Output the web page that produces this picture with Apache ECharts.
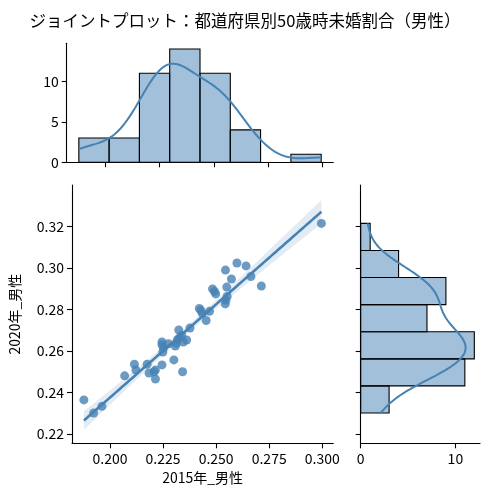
<!DOCTYPE html>
<html>
<head>
<meta charset="utf-8">
<script src="https://cdn.jsdelivr.net/npm/echarts@6/dist/echarts.min.js"></script>
<style>
  html, body { margin: 0; padding: 0; background: #fff; }
  #chart { width: 490px; height: 494px; }
</style>
</head>
<body>
<div id="chart"></div>
<script>
//都道府県別 50歳時未婚割合（男性）2015年 / 2020年
const x2015 = [
    0.1877, 0.1923, 0.1962, 0.2069, 0.2115, 0.2122, 0.2175, 0.2184, 0.2214, 0.2214,
    0.2245, 0.2245, 0.2249, 0.2301, 0.2342, 0.2308, 0.2324, 0.2338, 0.2361, 0.2318,
    0.2377, 0.2421, 0.2435, 0.2469, 0.2453, 0.2483, 0.2498, 0.2550, 0.2552, 0.2543,
    0.2572, 0.2544, 0.2598, 0.2641, 0.2664, 0.2713, 0.2996, 0.2492, 0.2546, 0.2428,
    0.2245, 0.2252, 0.2275, 0.2327, 0.2345, 0.2313, 0.2207
];
const y2020 = [
    0.2364, 0.2301, 0.2333, 0.2480, 0.2536, 0.2508, 0.2536, 0.2494, 0.2508, 0.2465,
    0.2533, 0.2643, 0.2595, 0.2557, 0.2500, 0.2624, 0.2701, 0.2675, 0.2653, 0.2655,
    0.2711, 0.2805, 0.2781, 0.2791, 0.2747, 0.2899, 0.2875, 0.2908, 0.2863, 0.2827,
    0.2947, 0.2990, 0.3024, 0.3010, 0.2959, 0.2913, 0.3215, 0.2887, 0.2845, 0.2795,
    0.2630, 0.2615, 0.2635, 0.2662, 0.2643, 0.2638, 0.2500
];

//ビン数と目盛り
const xBins = 8;
const yBins = 7;
const xTicks = [0.200, 0.225, 0.250, 0.275, 0.300];
const yTicks = [0.22, 0.24, 0.26, 0.28, 0.30, 0.32];
const topCountTicks = [0, 5, 10];
const rightCountTicks = [0, 10];

const BLUE = '#4682b4';
const FONT = '"Noto Sans CJK JP", "Noto Sans", sans-serif';

//ヒストグラム
function histogram(values, bins) {
    let lo = Math.min(...values), hi = Math.max(...values);
    let w = (hi - lo) / bins;
    let counts = new Array(bins).fill(0);
    values.forEach(v => {
        let i = Math.floor((v - lo) / w);
        if (i >= bins) i = bins - 1;
        counts[i]++;
    });
    return { width: w, rows: counts.map((c, i) => [lo + i * w, lo + (i + 1) * w, c]) };
}

//ガウスKDE（Scott）をカウントに換算
function kde(values, binWidth) {
    let n = values.length;
    let mean = values.reduce((a, b) => a + b, 0) / n;
    let sd = Math.sqrt(values.reduce((a, b) => a + (b - mean) ** 2, 0) / (n - 1));
    let bw = sd * Math.pow(n, -0.2);
    let lo = Math.min(...values), hi = Math.max(...values);
    let pts = [];
    for (let k = 0; k <= 200; k++) {
        let x = lo + (hi - lo) * k / 200;
        let d = 0;
        values.forEach(v => { d += Math.exp(-0.5 * ((x - v) / bw) ** 2); });
        d = d / (n * bw * Math.sqrt(2 * Math.PI));
        pts.push([x, d * n * binWidth]);
    }
    return pts;
}

//回帰直線と95%信頼区間
function regression(xs, ys) {
    let n = xs.length;
    let mx = xs.reduce((a, b) => a + b, 0) / n;
    let my = ys.reduce((a, b) => a + b, 0) / n;
    let sxx = 0, sxy = 0;
    xs.forEach((x, i) => { sxx += (x - mx) ** 2; sxy += (x - mx) * (ys[i] - my); });
    let b = sxy / sxx, a = my - b * mx;
    let sse = 0;
    xs.forEach((x, i) => { sse += (ys[i] - a - b * x) ** 2; });
    let s = Math.sqrt(sse / (n - 2));
    let t = 2.014;
    let lo = Math.min(...xs), hi = Math.max(...xs);
    let line = [], upper = [], lower = [];
    for (let k = 0; k <= 100; k++) {
        let x = lo + (hi - lo) * k / 100;
        let yh = a + b * x;
        let se = s * Math.sqrt(1 / n + (x - mx) ** 2 / sxx);
        line.push([x, yh]);
        upper.push([x, yh + t * se]);
        lower.push([x, yh - t * se]);
    }
    return { line, upper, lower };
}

let hx = histogram(x2015, xBins);
let hy = histogram(y2020, yBins);
let kx = kde(x2015, hx.width);
let ky = kde(y2020, hy.width).map(p => [p[1], p[0]]);
let reg = regression(x2015, y2020);

const X_MIN = 0.1821, X_MAX = 0.3052;
const Y_MIN = 0.2155, Y_MAX = 0.340;

function axisBase(show) {
    return {
        type: 'value',
        splitLine: { show: false },
        axisLine: { show: true, lineStyle: { color: '#000', width: 1.1 } },
        axisTick: { show: true, length: 5, lineStyle: { color: '#000', width: 1.1 } },
        axisLabel: { show: show, color: '#000', fontSize: 14, fontFamily: FONT, margin: 8 }
    };
}

function makeAxis(grid, min, max, ticks, show, fmt, extra) {
    let ax = axisBase(show);
    ax.gridIndex = grid;
    ax.min = min;
    ax.max = max;
    ax.axisTick.customValues = ticks;
    ax.axisLabel.customValues = ticks;
    if (fmt) ax.axisLabel.formatter = fmt;
    return Object.assign(ax, extra || {});
}

let chart = echarts.init(document.getElementById('chart'));

let option = {
    animation: false,
    title: {
        text: 'ジョイントプロット：都道府県別50歳時未婚割合（男性）',
        left: 'center',
        top: 7,
        textStyle: { fontSize: 16.5, fontWeight: 'normal', color: '#000', fontFamily: FONT }
    },
    grid: [
        { left: 66.7, top: 185, width: 266.6, height: 258.3 },
        { left: 66.7, top: 43.3, width: 266.6, height: 119 },
        { left: 360.7, top: 185, width: 119.3, height: 258.3 }
    ],
    xAxis: [
        makeAxis(0, X_MIN, X_MAX, xTicks, true, v => v.toFixed(3), {
            name: '2015年_男性', nameLocation: 'middle', nameGap: 27,
            nameTextStyle: { fontSize: 14, color: '#000', fontFamily: FONT }
        }),
        makeAxis(1, X_MIN, X_MAX, xTicks, false),
        makeAxis(2, 0, 12.6, rightCountTicks, true)
    ],
    yAxis: [
        makeAxis(0, Y_MIN, Y_MAX, yTicks, true, v => v.toFixed(2), {
            name: '2020年_男性', nameLocation: 'middle', nameGap: 50,
            nameTextStyle: { fontSize: 14, color: '#000', fontFamily: FONT }
        }),
        makeAxis(1, 0, 14.7, topCountTicks, true),
        makeAxis(2, Y_MIN, Y_MAX, yTicks, false)
    ],
    series: [
        {
            type: 'scatter',
            xAxisIndex: 0, yAxisIndex: 0,
            data: x2015.map((x, i) => [x, y2020[i]]),
            symbolSize: 9,
            itemStyle: { color: BLUE, opacity: 0.8 },
            z: 2
        },
        {
            type: 'custom',
            xAxisIndex: 0, yAxisIndex: 0,
            data: [[0]],
            z: 3,
            renderItem: (params, api) => {
                let pts = reg.upper.concat(reg.lower.slice().reverse()).map(p => api.coord(p));
                return { type: 'polygon', shape: { points: pts }, style: { fill: 'rgba(70,130,180,0.15)' } };
            }
        },
        {
            type: 'line',
            xAxisIndex: 0, yAxisIndex: 0,
            data: reg.line,
            showSymbol: false,
            lineStyle: { color: BLUE, width: 2.6 },
            z: 4
        },
        {
            type: 'custom',
            xAxisIndex: 1, yAxisIndex: 1,
            data: hx.rows.filter(r => r[2] > 0),
            encode: { x: [0, 1], y: 2 },
            renderItem: (params, api) => {
                let p0 = api.coord([api.value(0), 0]);
                let p1 = api.coord([api.value(1), api.value(2)]);
                return {
                    type: 'rect',
                    shape: { x: p0[0], y: p1[1], width: p1[0] - p0[0], height: p0[1] - p1[1] },
                    style: { fill: 'rgba(70,130,180,0.5)', stroke: '#000', lineWidth: 1.1 }
                };
            }
        },
        {
            type: 'line',
            xAxisIndex: 1, yAxisIndex: 1,
            data: kx,
            showSymbol: false,
            lineStyle: { color: BLUE, width: 2 },
            z: 4
        },
        {
            type: 'custom',
            xAxisIndex: 2, yAxisIndex: 2,
            data: hy.rows.filter(r => r[2] > 0),
            encode: { x: 2, y: [0, 1] },
            renderItem: (params, api) => {
                let p0 = api.coord([0, api.value(0)]);
                let p1 = api.coord([api.value(2), api.value(1)]);
                return {
                    type: 'rect',
                    shape: { x: p0[0], y: p1[1], width: p1[0] - p0[0], height: p0[1] - p1[1] },
                    style: { fill: 'rgba(70,130,180,0.5)', stroke: '#000', lineWidth: 1.1 }
                };
            }
        },
        {
            type: 'line',
            xAxisIndex: 2, yAxisIndex: 2,
            data: ky,
            showSymbol: false,
            lineStyle: { color: BLUE, width: 2 },
            z: 4
        }
    ]
};

chart.setOption(option);
</script>
</body>
</html>
